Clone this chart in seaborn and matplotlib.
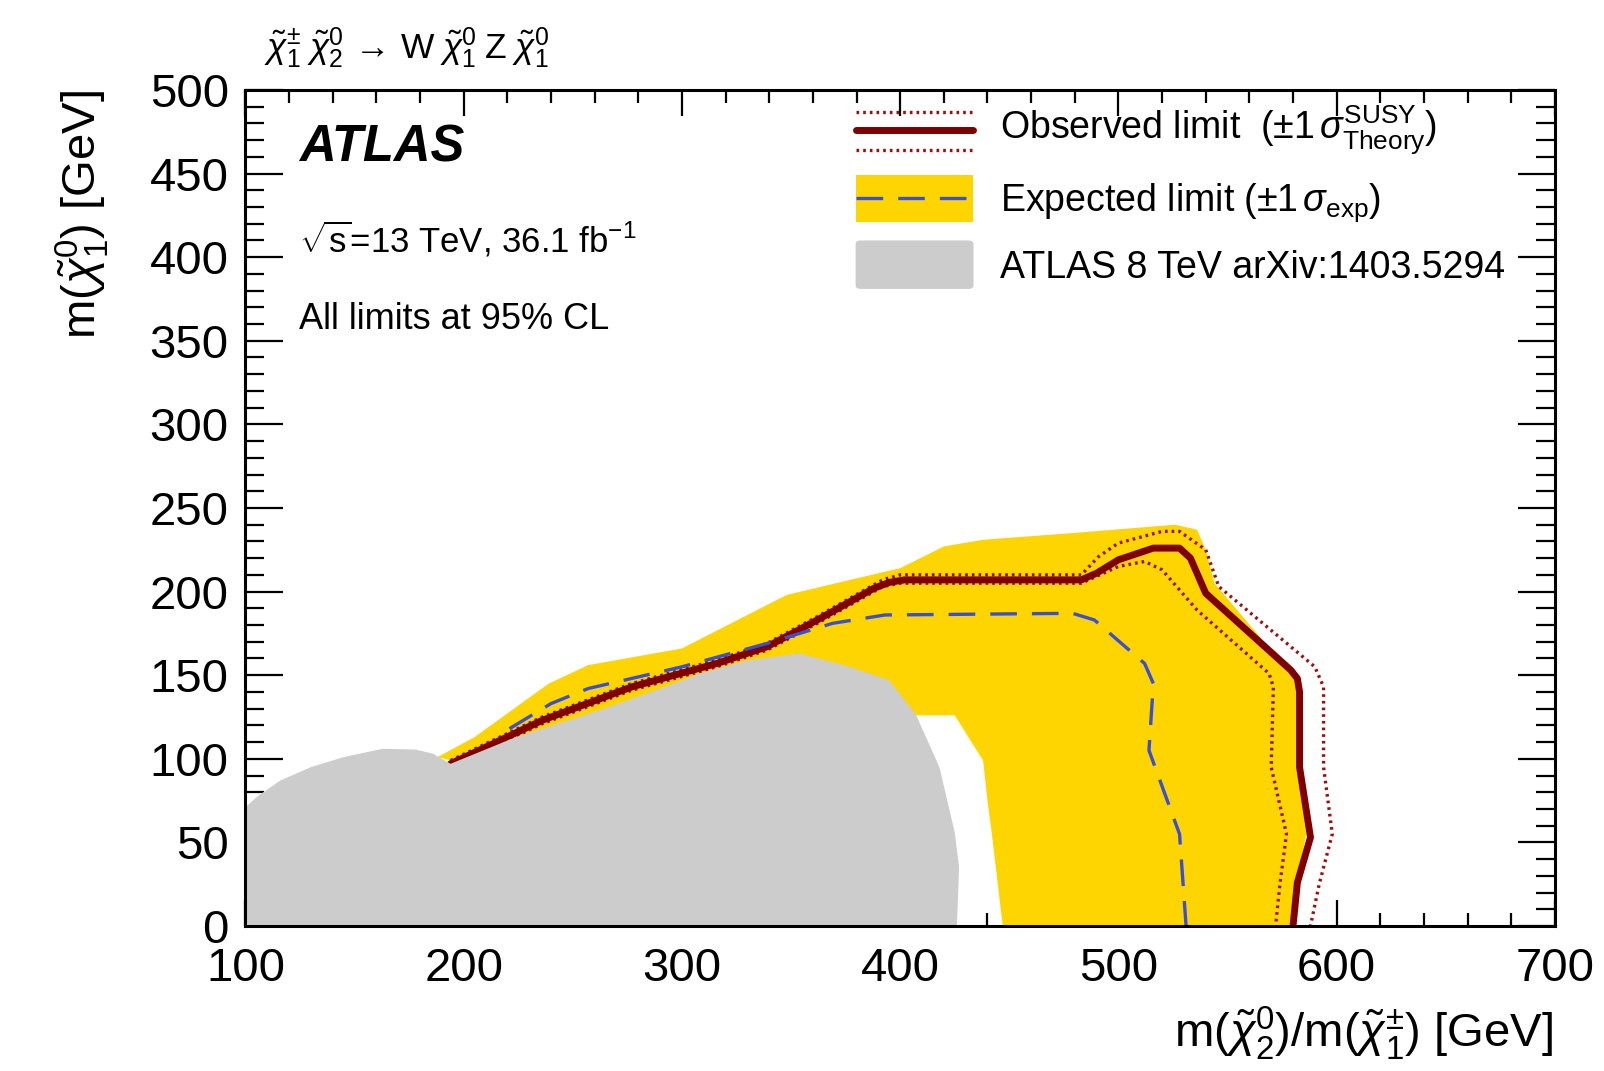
import numpy as np
import matplotlib
matplotlib.use("Agg")
import matplotlib.pyplot as plt
import seaborn as sns
from matplotlib.patches import Rectangle, FancyBboxPatch
from matplotlib.ticker import MultipleLocator

# ATLAS 8 TeV excluded region (polygon)
gray_x = [100, 106, 116, 130, 145, 163, 178, 186, 194, 224, 262, 290, 308, 330, 354, 377, 395, 407, 418, 425, 427, 426, 100]
gray_y = [71, 78, 87, 95, 101, 106, 105.5, 103, 97, 113, 129, 142, 151, 159, 163, 155, 147, 127, 95, 56, 35, 0, 0]

# expected +-1 sigma band: outer edge, then inner edge
band_up_x = [188, 205, 239, 257, 300, 348, 377, 400, 420, 438, 479, 526, 536, 540, 544, 579, 582, 582, 586, 582, 580]
band_up_y = [101, 113, 145, 156, 166, 198, 207, 214, 227, 231, 235, 240, 237, 225, 205, 151, 143, 95, 55, 25, 0]
band_dn_x = [447, 442, 440, 438, 425, 407, 390, 350, 300, 260, 206, 188]
band_dn_y = [0, 55, 75, 99, 126, 126, 140, 150, 140, 125, 95, 101]

# observed limit and +-1 sigma theory
obs_x = [194, 236, 277, 316, 339, 362, 388, 395, 402, 483, 490, 500, 516, 528, 533, 540, 579, 582, 583, 583, 588, 582, 580]
obs_y = [97, 123, 143, 157, 167, 183, 202, 205.5, 207, 207, 211, 219, 226, 226, 220, 199, 153, 148, 140, 95, 53, 26, 0]
obs_up_x = [194, 236, 277, 316, 339, 362, 392, 400, 483, 491, 500, 520, 528, 540, 546, 590, 594, 594, 598, 592, 588]
obs_up_y = [99, 125, 145, 159, 169, 185, 207, 210, 210, 221, 229, 236, 236, 225, 203, 155, 143, 95, 55, 25, 0]
obs_dn_x = [194, 236, 277, 316, 339, 362, 392, 400, 483, 500, 512, 520, 536, 569, 571, 570, 577, 574, 572]
obs_dn_y = [95, 121, 141, 155, 165, 181, 203, 205, 205, 215, 218, 213, 189, 151, 143, 95, 55, 25, 0]

# expected limit
exp_x = [221, 240, 257, 300, 339, 369, 393, 479, 489, 512, 516, 514, 528, 531]
exp_y = [118, 133, 142, 155, 169, 181, 186, 187, 183, 157, 145, 105, 55, 0]

sns.set_style("ticks")
plt.rcParams["font.family"] = ["Liberation Sans", "DejaVu Sans"]
plt.rcParams["mathtext.fontset"] = "custom"
plt.rcParams["mathtext.rm"] = "Liberation Sans"
plt.rcParams["mathtext.it"] = "Liberation Sans:italic"
plt.rcParams["mathtext.bf"] = "Liberation Sans:bold"
for k in ["text.color", "axes.labelcolor", "xtick.color", "ytick.color", "axes.edgecolor"]:
    plt.rcParams[k] = "black"

RED = "#7f0000"
DOT = "#9a1010"
YEL = "#ffd500"
GRY = "#cccccc"
BLUE = "#3a4fd8"

fig = plt.figure(figsize=(16.04, 10.71), dpi=100)
ax = fig.add_axes([0.153, 0.1354, 0.8164, 0.7806])

ax.fill(band_up_x + band_dn_x, band_up_y + band_dn_y, color=YEL, lw=0, zorder=1)
sns.lineplot(x=obs_up_x, y=obs_up_y, sort=False, estimator=None, ax=ax,
             color=DOT, lw=2.4, linestyle=(0, (0.8, 1.2)), zorder=2)
sns.lineplot(x=obs_dn_x, y=obs_dn_y, sort=False, estimator=None, ax=ax,
             color=DOT, lw=2.4, linestyle=(0, (0.8, 1.2)), zorder=2)
sns.lineplot(x=obs_x, y=obs_y, sort=False, estimator=None, ax=ax,
             color=RED, lw=5, zorder=3)
sns.lineplot(x=exp_x, y=exp_y, sort=False, estimator=None, ax=ax,
             color=BLUE, lw=2.4, linestyle=(0, (8, 4.5)), zorder=3)
ax.fill(gray_x, gray_y, color=GRY, lw=0, zorder=4)

ax.set_xlim(100, 700)
ax.set_ylim(0, 500)
ax.xaxis.set_major_locator(MultipleLocator(100))
ax.xaxis.set_minor_locator(MultipleLocator(20))
ax.yaxis.set_major_locator(MultipleLocator(50))
ax.yaxis.set_minor_locator(MultipleLocator(10))
ax.tick_params(which="both", direction="in", top=True, right=True, width=1.6, labelsize=34)
ax.tick_params(axis="x", which="major", length=19, pad=15)
ax.tick_params(axis="x", which="minor", length=9.5)
ax.tick_params(axis="y", which="major", length=27, pad=12)
ax.tick_params(axis="y", which="minor", length=14)
for s in ax.spines.values():
    s.set_linewidth(2.2)
    s.set_zorder(6)
ax.set_xlabel("")
ax.set_ylabel("")

fig.text(0.968, 0.0355, r"m($\tilde{\chi}^{0}_{2}$)/m($\tilde{\chi}^{\pm}_{1}$) [GeV]",
         ha="right", va="center", fontsize=34)
fig.text(0.051, 0.916, r"m($\tilde{\chi}^{0}_{1}$) [GeV]", rotation=90,
         ha="center", va="top", fontsize=34)
fig.text(0.1646, 0.955,
         r"$\tilde{\chi}^{\pm}_{1}\;\tilde{\chi}^{0}_{2}\,\rightarrow\,\mathrm{W}\;\tilde{\chi}^{0}_{1}\;\mathrm{Z}\;\tilde{\chi}^{0}_{1}$",
         ha="left", va="center", fontsize=25.5)

ax.text(0.041, 0.931, "ATLAS", transform=ax.transAxes, fontsize=36.5,
        fontweight="bold", fontstyle="italic", va="center", ha="left")
ax.text(0.041, 0.821, r"$\sqrt{\mathrm{s}}$=13 TeV, 36.1 fb$^{-1}$", transform=ax.transAxes,
        fontsize=25, va="center", ha="left")
ax.text(0.041, 0.725, "All limits at 95% CL", transform=ax.transAxes,
        fontsize=26, va="center", ha="left")

# legend
hx0, hx1, tx = 0.466, 0.556, 0.576
ax.plot([hx0, hx1], [0.974, 0.974], transform=ax.transAxes, color=DOT,
        lw=2.4, linestyle=(0, (0.8, 1.2)), zorder=7)
ax.plot([hx0, hx1], [0.928, 0.928], transform=ax.transAxes, color=DOT,
        lw=2.4, linestyle=(0, (0.8, 1.2)), zorder=7)
ax.plot([hx0, hx1], [0.952, 0.952], transform=ax.transAxes, color=RED, lw=5, zorder=7)
ax.add_patch(Rectangle((hx0, 0.842), hx1 - hx0, 0.056, transform=ax.transAxes,
                       color=YEL, lw=0, zorder=7))
ax.plot([hx0, hx1], [0.871, 0.871], transform=ax.transAxes, color=BLUE, lw=2.4,
        linestyle=(0, (8, 4.5)), zorder=8)
ax.add_patch(FancyBboxPatch((hx0 + 0.004, 0.766), hx1 - hx0 - 0.008, 0.050,
                            boxstyle="round,pad=0.004", transform=ax.transAxes,
                            color=GRY, lw=0, zorder=7))
ax.text(tx, 0.952, r"Observed limit  ($\pm1\,\sigma^{\mathrm{SUSY}}_{\mathrm{Theory}}$)",
        transform=ax.transAxes, fontsize=27, va="center", ha="left")
ax.text(tx, 0.865, r"Expected limit ($\pm1\,\sigma_{\mathrm{exp}}$)",
        transform=ax.transAxes, fontsize=27, va="center", ha="left")
ax.text(tx, 0.787, "ATLAS 8 TeV arXiv:1403.5294",
        transform=ax.transAxes, fontsize=27, va="center", ha="left")

fig.savefig("out.png", dpi=100)
